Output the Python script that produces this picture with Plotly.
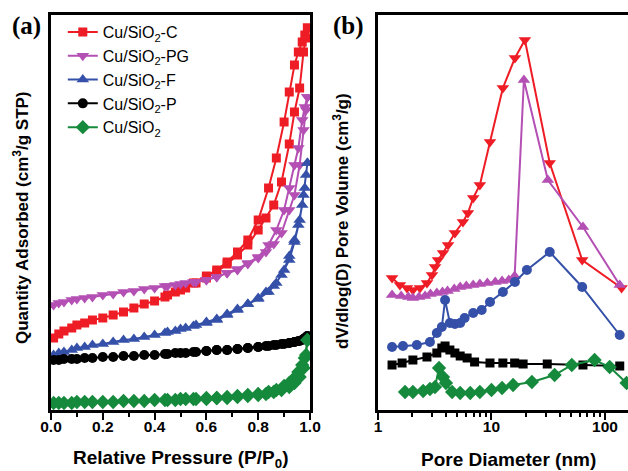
import plotly.graph_objects as go

# ---------------- Panel (a): N2 isotherms (arbitrary offset units) ----------------
P_ads = [0.01, 0.03, 0.05, 0.08, 0.10, 0.13, 0.16, 0.20, 0.24, 0.28, 0.32, 0.36, 0.40, 0.44, 0.48, 0.52,
         0.56, 0.60, 0.64, 0.68, 0.72, 0.76, 0.80, 0.83, 0.86, 0.89, 0.92, 0.94, 0.96, 0.975, 0.985, 0.99]
P_des = [0.99, 0.98, 0.97, 0.955, 0.94, 0.92, 0.90, 0.87, 0.84, 0.80, 0.76, 0.72, 0.68, 0.64, 0.60, 0.55, 0.50, 0.45]

C_ads = [72, 76, 79, 82, 85, 87, 90, 92, 95, 98, 102, 106, 109, 113, 118, 122,
         127, 132, 138, 146, 155, 165, 180, 192, 205, 228, 266, 298, 322, 358, 372, 382]
C_des = [382, 375, 368, 358, 345, 318, 288, 252, 222, 190, 170, 158, 148, 140, 134, 127, 120, 115]

PG_ads = [105, 107, 108, 110, 111, 112, 113, 115, 116, 118, 119, 121, 122, 124, 125, 127,
          128, 130, 133, 137, 140, 146, 152, 158, 166, 177, 200, 215, 245, 280, 300, 313]
PG_des = [313, 303, 290, 262, 245, 222, 200, 180, 165, 153, 147, 141, 137, 133, 130, 128, 126, 124]

F_ads = [55, 57, 58, 60, 62, 63, 65, 66, 68, 70, 71, 73, 75, 77, 79, 82,
         85, 87, 90, 95, 100, 106, 112, 118, 124, 135, 150, 168, 190, 215, 235, 247]
F_des = [247, 222, 205, 185, 170, 154, 140, 127, 118, 111, 106, 101, 96, 91, 88, 84, 81, 78]

Pp_ads = [50, 50, 51, 51, 51, 52, 52, 53, 53, 54, 54, 55, 55, 56, 57, 57,
          58, 59, 60, 60, 61, 62, 63, 64, 65, 66, 67, 68, 69, 71, 72, 74]
Pp_des = [74, 72, 70, 69, 68, 67, 66, 65, 64, 63, 62, 61, 60, 60, 59, 58, 57, 56]

S_ads = [7, 7, 7, 7, 8, 8, 8, 8, 8, 9, 9, 9, 10, 10, 10, 11,
         11, 11, 12, 12, 13, 14, 15, 16, 18, 20, 23, 27, 33, 42, 55, 70]
S_des = [70, 52, 45, 38, 32, 27, 24, 20, 18, 16, 15, 14, 13, 12, 12, 11, 11, 10]

# ---------------- Panel (b): pore size distributions ----------------
D_C = [1.33, 1.56, 1.8, 2.03, 2.34, 2.7, 2.99, 3.18, 3.38, 3.74, 4.14, 4.76, 5.6, 6.2, 6.9, 7.9,
       9.7, 12.6, 16.1, 19.7, 32.6, 63, 140]
V_C = [132, 125, 122, 120, 122, 127, 135, 143, 150, 157, 165, 177, 188, 197, 212, 225,
       268, 322, 352, 370, 247, 150, 122]

D_PG = [1.33, 1.6, 1.85, 2.03, 2.3, 2.6, 2.9, 3.3, 3.7, 4.1, 4.7, 5.3, 6.0, 6.9, 7.9, 9.2,
        10.8, 12.4, 14.2, 16.0, 19.3, 31.4, 64, 135]
V_PG = [115, 114, 113, 112, 113, 114, 116, 117, 118, 119, 121, 123, 124, 125, 126, 127,
        128, 129, 130, 134, 330, 230, 183, 125]

D_F = [1.33, 1.66, 2.2, 2.87, 3.3, 3.65, 3.9, 4.3, 4.76, 5.3, 5.8, 6.9, 8.2, 9.7, 12.6, 16.1,
       20.5, 32.6, 63, 135]
V_F = [63, 64, 65, 68, 77, 83, 110, 87, 86, 87, 92, 97, 100, 108, 118, 128,
       140, 158, 123, 75]

D_P = [1.33, 1.63, 2.03, 2.7, 3.3, 3.65, 3.9, 4.3, 4.76, 5.3, 6.1, 7.1, 9.7, 12.6, 16, 19,
       31, 64, 135]
V_P = [45, 47, 50, 53, 57, 62, 64, 60, 57, 54, 52, 48, 47, 47, 47, 46,
       46, 45, 44]

D_S = [1.73, 2.03, 2.5, 2.87, 3.18, 3.45, 3.74, 3.97, 4.5, 5.3, 6.5, 7.9, 10, 12.4, 15.5, 22.7,
       36, 51, 81, 110, 155]
V_S = [18, 18, 19, 21, 23, 42, 33, 27, 18, 17, 17, 18, 20, 22, 25, 28,
       35, 45, 50, 43, 27]

names = ["Cu/SiO<sub>2</sub>-C", "Cu/SiO<sub>2</sub>-PG", "Cu/SiO<sub>2</sub>-F",
         "Cu/SiO<sub>2</sub>-P", "Cu/SiO<sub>2</sub>"]
colors = ["#ee1c25", "#b44fb4", "#3550a8", "#000000", "#168a3c"]
sym_a = ["square", "triangle-down", "triangle-up", "circle", "diamond"]
sym_b = ["triangle-down", "triangle-up", "circle", "square", "diamond"]
msize = {"square": 9, "triangle-down": 11, "triangle-up": 11, "circle": 10, "diamond": 11}

iso = [(C_ads, C_des), (PG_ads, PG_des), (F_ads, F_des), (Pp_ads, Pp_des), (S_ads, S_des)]
psd = [(D_C, V_C), (D_PG, V_PG), (D_F, V_F), (D_P, V_P), (D_S, V_S)]

fig = go.Figure()
for i in range(5):
    ads, des = iso[i]
    fig.add_trace(go.Scatter(
        x=P_ads + P_des, y=ads + des, mode="lines+markers", name=names[i],
        legendgroup=f"g{i}",
        line=dict(color=colors[i], width=2),
        marker=dict(symbol=sym_a[i], size=msize[sym_a[i]], color=colors[i]),
        xaxis="x", yaxis="y"))
for i in range(5):
    d, v = psd[i]
    fig.add_trace(go.Scatter(
        x=d, y=v, mode="lines+markers", showlegend=False,
        line=dict(color=colors[i], width=2),
        marker=dict(symbol=sym_b[i], size=msize[sym_b[i]], color=colors[i]),
        xaxis="x2", yaxis="y2"))

W, H = 628, 471
ydom = [61 / H, 456 / H]
tickfont = dict(family="Liberation Sans", size=15.5, color="black", weight="bold")

fig.update_layout(
    template="none",
    width=W, height=H,
    margin=dict(l=0, r=0, t=0, b=0, pad=0, autoexpand=False),
    paper_bgcolor="white", plot_bgcolor="white",
    showlegend=True,
    legend=dict(x=0.1, y=0.968, xanchor="left", yanchor="top",
                font=dict(family="Liberation Sans", size=16, color="black"),
                bgcolor="rgba(0,0,0,0)", tracegroupgap=0, itemwidth=30),
    xaxis=dict(domain=[51 / W, 310 / W], range=[0, 1.0], tickvals=[0, 0.2, 0.4, 0.6, 0.8, 1.0],
               ticktext=["0.0", "0.2", "0.4", "0.6", "0.8", "1.0"],
               ticks="outside", ticklen=7, tickwidth=2, tickcolor="black", ticklabelstandoff=-6,
               minor=dict(tickvals=[0.1, 0.3, 0.5, 0.7, 0.9], ticks="outside", ticklen=4,
                          tickwidth=2, tickcolor="black", showgrid=False),
               showline=True, linecolor="black", linewidth=2.5, mirror=True, automargin=False,
               showgrid=False, zeroline=False, tickfont=tickfont, anchor="y"),
    yaxis=dict(domain=ydom, range=[0, 395], showticklabels=False, ticks="",
               showline=True, linecolor="black", linewidth=2.5, mirror=True, automargin=False,
               showgrid=False, zeroline=False, anchor="x"),
    xaxis2=dict(domain=[378 / W, 1.0], type="log", range=[0, 2.203],
                tickvals=[1, 10, 100], ticktext=["1", "10", "100"],
                ticks="outside", ticklen=7, tickwidth=2, tickcolor="black", ticklabelstandoff=-6,
                minor=dict(tickvals=[2, 3, 4, 5, 6, 7, 8, 9, 20, 30, 40, 50, 60, 70, 80, 90],
                           ticks="outside", ticklen=4, tickwidth=2, tickcolor="black",
                           showgrid=False),
                showline=True, linecolor="black", linewidth=2.5, mirror=True, automargin=False,
                showgrid=False, zeroline=False, tickfont=tickfont, anchor="y2"),
    yaxis2=dict(domain=ydom, range=[0, 395], showticklabels=False, ticks="",
                showline=True, linecolor="black", linewidth=2.5, mirror=False, automargin=False,
                showgrid=False, zeroline=False, anchor="x2"),
)

xtitle_font = dict(family="Liberation Sans", size=19, color="black", weight="bold")
ytitle_font = dict(family="Liberation Sans", size=17, color="black", weight="bold")
panel_font = dict(family="Liberation Serif", size=25, color="black", weight="bold")
annots = [
    dict(text="Relative Pressure (P/P<sub>0</sub>)", x=180 / W, y=1 - 459 / H, font=xtitle_font),
    dict(text="Pore Diameter (nm)", x=508 / W, y=1 - 459 / H, font=xtitle_font),
    dict(text="Quantity Adsorbed (cm<sup>3</sup>/g STP)", x=21 / W, y=1 - 218 / H,
         font=ytitle_font, textangle=-90),
    dict(text="dV/dlog(D) Pore Volume (cm<sup>3</sup>/g)", x=341 / W, y=1 - 221 / H,
         font=ytitle_font, textangle=-90),
    dict(text="(a)", x=26 / W, y=1 - 26 / H, font=panel_font),
    dict(text="(b)", x=348 / W, y=1 - 26 / H, font=panel_font),
]
for a in annots:
    fig.add_annotation(xref="paper", yref="paper", showarrow=False,
                       xanchor="center", yanchor="middle", **a)

fig.write_html("out.html")
